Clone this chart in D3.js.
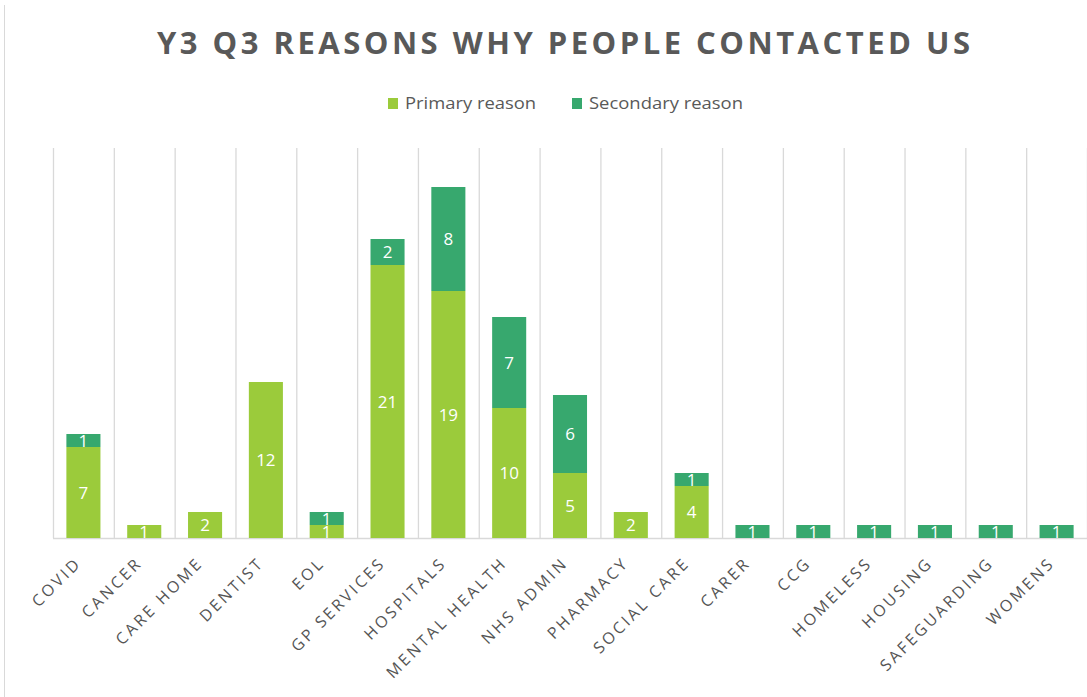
<!DOCTYPE html>
<html><head><meta charset="utf-8">
<script src="https://cdn.jsdelivr.net/npm/d3@7/dist/d3.min.js"></script>
<style>body{margin:0;background:#fff}svg{display:block}</style>
</head><body>
<svg id="c" width="1087" height="697"></svg>
<script>
const categories = ["COVID","CANCER","CARE HOME","DENTIST","EOL","GP SERVICES","HOSPITALS","MENTAL HEALTH","NHS ADMIN","PHARMACY","SOCIAL CARE","CARER","CCG","HOMELESS","HOUSING","SAFEGUARDING","WOMENS"];
const primary   = [7,1,2,12,1,21,19,10,5,2,4,0,0,0,0,0,0];
const secondary = [1,0,0,0,1,2,8,7,6,0,1,1,1,1,1,1,1];
const seriesNames = ["Primary reason","Secondary reason"];
const colors = ["#9BCB3B","#37A86E"];
const yMax = 30;

const svg = d3.select("#c");
const W = 1087, H = 697;
const m = {left:53, right:0, top:148, bottom:159};
const base = H - m.bottom;

const x = d3.scaleBand().domain(categories).range([m.left, W - m.right]).padding(0);
const y = d3.scaleLinear().domain([0, yMax]).range([base, m.top]);
const bw = x.bandwidth();

// chart frame left border
svg.append("line").attr("x1",4.5).attr("x2",4.5).attr("y1",5).attr("y2",H).attr("stroke","#d9d9d9");

// title
svg.append("text").attr("x", 157).attr("y", 54)
  .attr("font-family","'Open Sans', sans-serif").attr("font-weight","bold")
  .attr("font-size", 31).attr("fill","#595959")
  .attr("textLength", 813).attr("lengthAdjust","spacing")
  .text("Y3 Q3 REASONS WHY PEOPLE CONTACTED US");

// legend
const lg = svg.append("g").attr("font-family","'Open Sans', sans-serif").attr("font-size",16).attr("fill","#595959");
const legX = [388, 572];
const legLen = [131, 154];
seriesNames.forEach((n,i)=>{
  lg.append("rect").attr("x",legX[i]).attr("y",98).attr("width",10).attr("height",11).attr("fill",colors[i]);
  lg.append("text").attr("x",legX[i]+17).attr("y",109)
    .attr("textLength",legLen[i]).attr("lengthAdjust","spacingAndGlyphs").text(n);
});

// vertical gridlines
const gl = categories.map(c=>x(c)).concat([W - m.right]);
svg.append("g").selectAll("line").data(gl).join("line")
  .attr("x1",d=>d+0.5).attr("x2",d=>d+0.5).attr("y1",m.top).attr("y2",base)
  .attr("stroke","#d9d9d9").attr("stroke-width",1.3);

// baseline axis
svg.append("line").attr("x1",m.left).attr("x2",W).attr("y1",base+0.5).attr("y2",base+0.5)
  .attr("stroke","#d9d9d9").attr("stroke-width",1.3);

// stacked bars
const data = categories.map((c,i)=>({cat:c, p:primary[i], s:secondary[i]}));
const stack = d3.stack().keys(["p","s"])(data);
const barW = bw*0.56;
const g = svg.append("g");
stack.forEach((layer,li)=>{
  g.append("g").selectAll("rect").data(layer).join("rect")
    .attr("x", d=>x(d.data.cat) + (bw-barW)/2)
    .attr("y", d=>y(d[1]))
    .attr("width", barW)
    .attr("height", d=>y(d[0])-y(d[1]))
    .attr("fill", colors[li]);
});
// value labels
stack.forEach((layer,li)=>{
  g.append("g").selectAll("text").data(layer.filter(d=>d[1]-d[0]>0)).join("text")
    .attr("x", d=>x(d.data.cat)+bw/2)
    .attr("y", d=>(y(d[0])+y(d[1]))/2)
    .attr("dy","0.36em")
    .attr("text-anchor","middle")
    .attr("font-family","'Open Sans', sans-serif").attr("font-size",17)
    .attr("fill","#fff")
    .text(d=>d[1]-d[0]);
});

// category labels
svg.append("g").selectAll("text").data(categories).join("text")
  .attr("transform", c=>`translate(${x(c)+bw/2-1},${base+26}) rotate(-45)`)
  .attr("text-anchor","end")
  .attr("font-family","'Open Sans', sans-serif").attr("font-size",16)
  .attr("letter-spacing",2.8)
  .attr("fill","#555555")
  .text(c=>c);
</script>
</body></html>
